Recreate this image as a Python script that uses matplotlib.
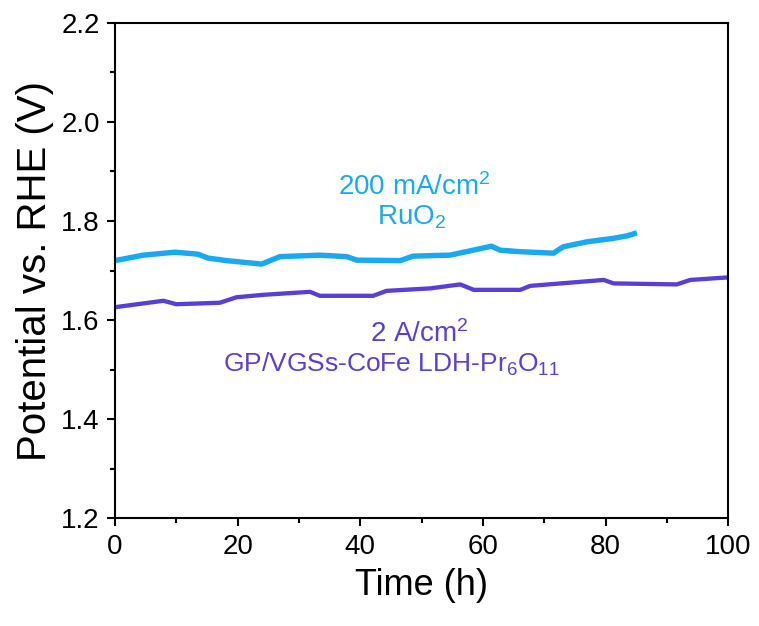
import matplotlib
matplotlib.use("Agg")
import matplotlib.pyplot as plt
from matplotlib.ticker import MultipleLocator, FormatStrFormatter

plt.rcParams['font.family'] = ['Liberation Sans', 'DejaVu Sans']
plt.rcParams['mathtext.fontset'] = 'custom'
plt.rcParams['mathtext.rm'] = 'Liberation Sans'
plt.rcParams['mathtext.it'] = 'Liberation Sans:italic'

# RuO2 @ 200 mA/cm2
ruo2_t = [0, 4.6, 9.8, 13.5, 15.2, 18.2, 23.9, 26.9, 33.4, 37.8, 39.4, 46.5, 48.6,
          51.4, 54.6, 61.4, 62.8, 66.1, 71.5, 73.1, 77.0, 81.3, 83.5, 85.1]
ruo2_v = [1.720, 1.731, 1.737, 1.733, 1.725, 1.720, 1.713, 1.728, 1.731, 1.728, 1.721, 1.720, 1.729,
          1.730, 1.731, 1.749, 1.741, 1.738, 1.735, 1.748, 1.758, 1.765, 1.770, 1.776]

# GP/VGSs-CoFe LDH-Pr6O11 @ 2 A/cm2
gp_t = [0, 7.9, 10, 17.1, 19.8, 24.2, 31.8, 33.4, 42.1, 44.3, 51.4, 56.3, 58.5,
        66.1, 67.7, 79.7, 81.3, 91.6, 93.8, 99.8]
gp_v = [1.626, 1.639, 1.632, 1.635, 1.646, 1.651, 1.657, 1.649, 1.649, 1.659, 1.664, 1.672, 1.661,
        1.661, 1.669, 1.681, 1.674, 1.672, 1.681, 1.686]

blue = '#19A9F0'
purple = '#5A3FD6'

fig = plt.figure(figsize=(7.59, 6.26), dpi=100)
ax = fig.add_axes([0.1515, 0.172, 0.808, 0.7917])

ax.plot(ruo2_t, ruo2_v, color=blue, lw=3.9, solid_joinstyle='round', solid_capstyle='butt')
ax.plot(gp_t, gp_v, color=purple, lw=3.1, solid_joinstyle='round')

ax.set_xlim(0, 100)
ax.set_ylim(1.2, 2.2)
ax.xaxis.set_major_locator(MultipleLocator(20))
ax.xaxis.set_minor_locator(MultipleLocator(10))
ax.yaxis.set_major_locator(MultipleLocator(0.2))
ax.yaxis.set_minor_locator(MultipleLocator(0.1))
ax.yaxis.set_major_formatter(FormatStrFormatter('%.1f'))

for s in ax.spines.values():
    s.set_linewidth(1.5)
ax.tick_params(which='major', direction='out', length=6, width=1.5, labelsize=20, pad=5)
ax.tick_params(which='minor', direction='out', length=3.5, width=1.5)
ax.tick_params(top=False, right=False)

ax.set_xlabel('Time (h)', fontsize=26, labelpad=6)
ax.set_ylabel('Potential vs. RHE (V)', fontsize=29, labelpad=5)

ax.text(48.8, 1.852, '200 mA/cm$^2$', color=blue, fontsize=20, ha='center', va='baseline')
ax.text(48.4, 1.792, 'RuO$_2$', color=blue, fontsize=20, ha='center', va='baseline')
ax.text(49.6, 1.556, '2 A/cm$^2$', color=purple, fontsize=20, ha='center', va='baseline')
ax.text(45.1, 1.496, 'GP/VGSs-CoFe LDH-Pr$_6$O$_{11}$', color=purple, fontsize=19, ha='center', va='baseline')

fig.savefig('out.png', dpi=100)
